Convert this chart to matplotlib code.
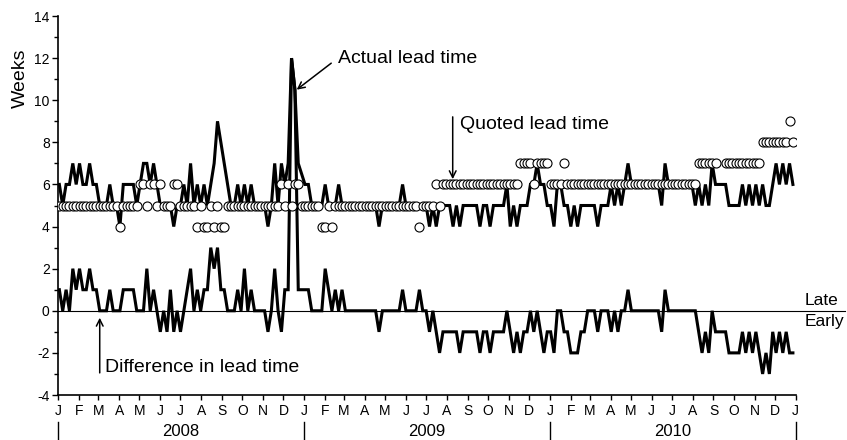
import numpy as np
import pandas as pd
import matplotlib
matplotlib.use('Agg')
import matplotlib.pyplot as plt
import matplotlib.transforms as mtransforms

plt.rcParams['font.family'] = ['Liberation Sans', 'DejaVu Sans']
plt.rcParams['axes.unicode_minus'] = False

# ---- data, one sample every 5 days from 3 Jan 2008 ----
start_date = '2008-01-03'

# actual lead time (weeks)
actual = [
    6, 5, 6, 6, 7, 6, 7, 6, 6, 7,
    6, 6, 5, 5, 5, 6, 5, 5, 4, 6,
    6, 6, 6, 5, 6, 7, 7, 6, 7, 6,
    5, 5, 5, 5, 4, 5, 5, 6, 5, 7,
    5, 6, 5, 6, 5, 6, 7, 9, 8, 7,
    6, 5, 5, 6, 5, 6, 5, 6, 5, 5,
    5, 5, 4, 5, 7, 5, 7, 6, 7, 12,
    10.5, 7, 6.5, 6, 6, 5, 5, 5, 5, 6,
    5, 5, 5, 6, 5, 5, 5, 5, 5, 5,
    5, 5, 5, 5, 5, 4, 5, 5, 5, 5,
    5, 5, 6, 5, 5, 5, 5, 5, 5, 5,
    4, 5, 4, 5, 5, 5, 5, 4, 5, 4,
    5, 5, 5, 5, 5, 4, 5, 5, 4, 5,
    5, 5, 5, 6, 4, 5, 4, 5, 5, 5,
    6, 6, 7, 6, 6, 5, 5, 4, 6, 6,
    5, 5, 4, 5, 4, 5, 5, 5, 5, 5,
    4, 5, 5, 5, 6, 5, 6, 5, 6, 7,
    6, 6, 6, 6, 6, 6, 6, 6, 6, 5,
    7, 6, 6, 6, 6, 6, 6, 6, 6, 5,
    6, 5, 6, 5, 7, 6, 6, 6, 6, 5,
    5, 5, 5, 6, 5, 6, 5, 6, 5, 6,
    5, 5, 6, 7, 6, 7, 6, 7, 6,
]

# quoted lead time (weeks), nan = no quote
quoted = [
    5, 5, 5, 5, 5, 5, 5, 5, 5, 5,
    5, 5, 5, 5, 5, 5, 5, 5, 4, 5,
    5, 5, 5, 5, 6, 6, 5, 6, 6, 5,
    6, 5, 5, 5, 6, 6, 5, 5, 5, 5,
    5, 4, 5, 4, 4, 5, 4, 5, 4, 4,
    5, 5, 5, 5, 5, 5, 5, 5, 5, 5,
    5, 5, 5, 5, 5, 5, 6, 5, 6, 5,
    6, 6, 5, 5, 5, 5, 5, 5, 4, 4,
    5, 4, 5, 5, 5, 5, 5, 5, 5, 5,
    5, 5, 5, 5, 5, 5, 5, 5, 5, 5,
    5, 5, 5, 5, 5, 5, 5, 4, 5, 5,
    5, 5, 6, 5, 6, 6, 6, 6, 6, 6,
    6, 6, 6, 6, 6, 6, 6, 6, 6, 6,
    6, 6, 6, 6, 6, 6, 6, 7, 7, 7,
    7, 6, 7, 7, 7, 7, 6, 6, 6, 6,
    7, 6, 6, 6, 6, 6, 6, 6, 6, 6,
    6, 6, 6, 6, 6, 6, 6, 6, 6, 6,
    6, 6, 6, 6, 6, 6, 6, 6, 6, 6,
    6, 6, 6, 6, 6, 6, 6, 6, 6, 6,
    7, 7, 7, 7, 7, 7, np.nan, np.nan, 7, 7,
    7, 7, 7, 7, 7, 7, 7, 7, 7, 8,
    8, 8, 8, 8, 8, 8, 8, 9, 8,
]

# difference in lead time (weeks, late > 0 > early)
difference = [
    1, 0, 1, 0, 2, 1, 2, 1, 1, 2,
    1, 1, 0, 0, 0, 1, 0, 0, 0, 1,
    1, 1, 1, 0, 0, 0, 2, 0, 1, 0,
    -1, 0, -1, 1, -1, 0, -1, 0, 1, 2,
    0, 1, 0, 1, 1, 3, 2, 3, 1, 1,
    0, 0, 0, 1, 0, 2, 0, 1, 0, 0,
    0, 0, -1, 0, 2, 0, -1, 1, 1, 12,
    10.5, 1, 1, 1, 1, 0, 0, 0, 0, 2,
    1, 0, 1, 0, 1, 0, 0, 0, 0, 0,
    0, 0, 0, 0, 0, -1, 0, 0, 0, 0,
    0, 0, 1, 0, 0, 0, 0, 1, 0, 0,
    -1, 0, -1, -2, -1, -1, -1, -1, -1, -2,
    -1, -1, -1, -1, -1, -2, -1, -1, -2, -1,
    -1, -1, -1, 0, -1, -2, -1, -2, -1, -1,
    0, -1, 0, -1, -2, -1, -1, -2, 0, 0,
    -1, -1, -2, -2, -2, -1, -1, 0, 0, 0,
    -1, 0, 0, 0, -1, 0, -1, 0, 0, 1,
    0, 0, 0, 0, 0, 0, 0, 0, 0, -1,
    1, 0, 0, 0, 0, 0, 0, 0, 0, 0,
    -1, -2, -1, -2, 0, -1, -1, -1, -1, -2,
    -2, -2, -2, -1, -2, -1, -2, -1, -2, -3,
    -2, -3, -1, -2, -1, -2, -1, -2, -2,
]

month_letters = ['J', 'F', 'M', 'A', 'M', 'J', 'J', 'A', 'S', 'O', 'N', 'D'] * 3 + ['J']
years = ['2008', '2009', '2010']

dates = pd.date_range(start_date, periods=len(actual), freq='5D')

# ---- figure ----
fig = plt.figure(figsize=(8.47, 4.40), dpi=100)
ax = fig.add_axes([58 / 847, 1 - 395 / 440, (795.6 - 58) / 847, 379 / 440])

ax.plot(dates, actual, color='black', lw=2.2, solid_joinstyle='miter', zorder=3)
ax.plot(dates, difference, color='black', lw=2.2, solid_joinstyle='miter', zorder=3)
ax.plot(dates, quoted, ls='none', marker='o', ms=6.5, mfc='white', mec='black',
        mew=0.8, zorder=4)

ax.set_xlim(pd.Timestamp('2008-01-01'), pd.Timestamp('2011-01-01'))
ax.set_ylim(-4, 14)

# zero line running out past the axis to the Late / Early labels
blend = mtransforms.blended_transform_factory(ax.transAxes, ax.transData)
ax.plot([0, 1.067], [0, 0], color='black', lw=0.8, transform=blend,
        clip_on=False, zorder=2)
ax.text(1.0127, 0.47, 'Late', transform=blend, fontsize=12.5, va='center', ha='left')
ax.text(1.0127, -0.52, 'Early', transform=blend, fontsize=12.5, va='center', ha='left')

# ticks
month_starts = pd.date_range('2008-01-01', '2011-01-01', freq='MS')
ax.set_xticks(month_starts)
ax.set_xticklabels(month_letters, fontsize=10)
ax.set_yticks(range(-4, 15, 2))
ax.set_yticks(range(-3, 14, 2), minor=True)
ax.tick_params(axis='y', labelsize=10, length=4, width=1, direction='out', pad=2)
ax.tick_params(axis='y', which='minor', length=3, width=1)
ax.tick_params(axis='x', length=3.5, width=1, direction='out', pad=3)

for s in ['top', 'right']:
    ax.spines[s].set_visible(False)
for s in ['left', 'bottom']:
    ax.spines[s].set_linewidth(1.2)

# year row under the month letters
xblend = mtransforms.blended_transform_factory(ax.transData, ax.transAxes)
year_starts = pd.date_range('2008-01-01', '2011-01-01', freq='YS')
for ys in year_starts:
    ax.plot([ys, ys], [-0.07, -0.118], color='black', lw=1, transform=xblend,
            clip_on=False)
for yr in years:
    ax.text(pd.Timestamp(yr + '-07-02'), -0.095, yr, transform=xblend,
            ha='center', va='center', fontsize=12)

fig.text(20 / 847, 1 - 78 / 440, 'Weeks', rotation=90, ha='center', va='center',
         fontsize=14)

# annotations
arrow_kw = dict(arrowstyle='->', color='black', lw=1.1, mutation_scale=12,
                shrinkA=0, shrinkB=0)
ax.annotate('', xy=(pd.Timestamp('2008-12-20 16:00'), 10.5),
            xytext=(pd.Timestamp('2009-02-10'), 11.76), arrowprops=arrow_kw)
ax.text(pd.Timestamp('2009-02-20'), 11.97, 'Actual lead time', fontsize=14,
        ha='left', va='center')

ax.annotate('', xy=(pd.Timestamp('2009-08-09 12:00'), 6.25),
            xytext=(pd.Timestamp('2009-08-09 12:00'), 9.21), arrowprops=arrow_kw)
ax.text(pd.Timestamp('2009-08-20'), 8.83, 'Quoted lead time', fontsize=14,
        ha='left', va='center')

ax.annotate('', xy=(pd.Timestamp('2008-03-03'), -0.33),
            xytext=(pd.Timestamp('2008-03-03'), -2.95), arrowprops=arrow_kw)
ax.text(pd.Timestamp('2008-03-10 18:00'), -2.71, 'Difference in lead time', fontsize=14,
        ha='left', va='center')

fig.savefig('out.png', dpi=100)
